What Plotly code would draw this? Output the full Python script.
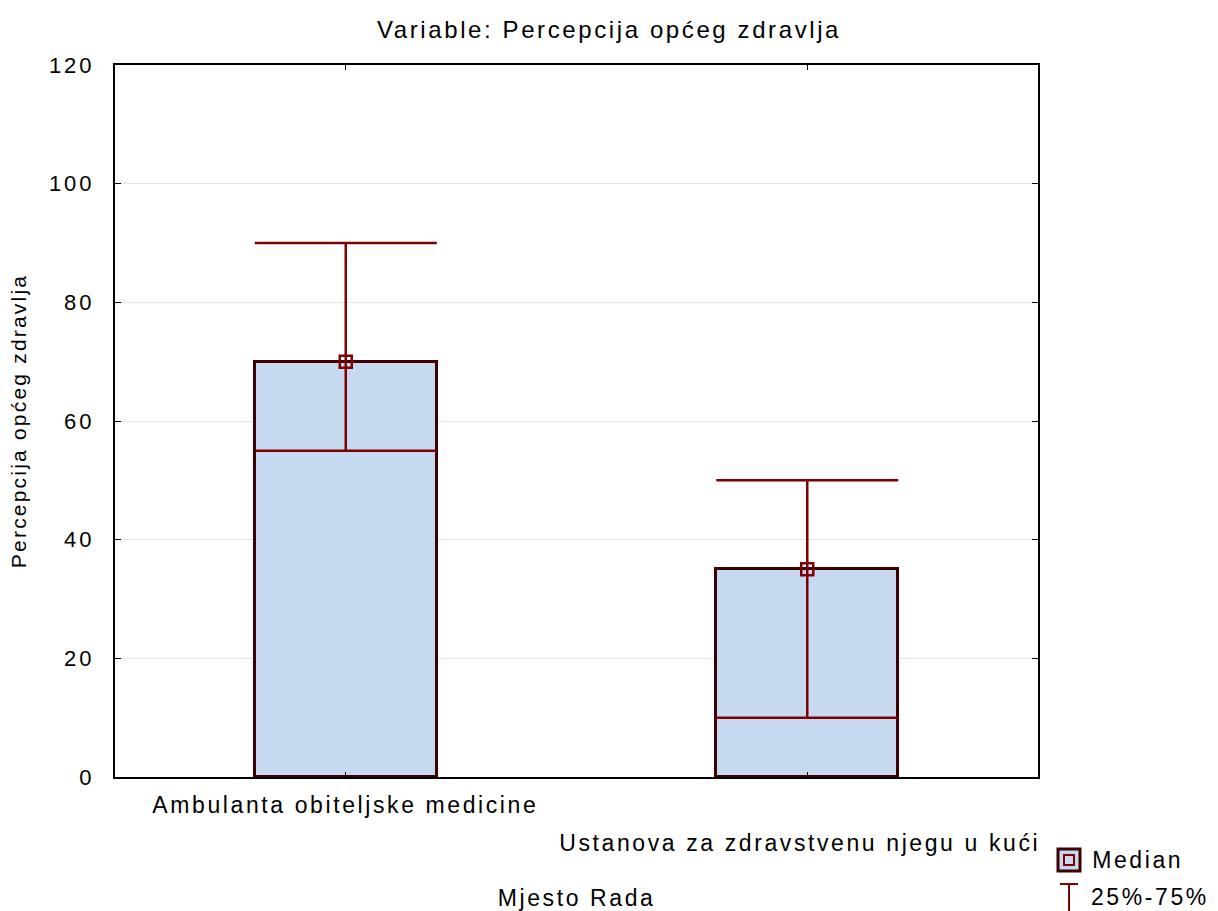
import plotly.graph_objects as go

categories = ["Ambulanta obiteljske medicine", "Ustanova za zdravstvenu njegu u kući"]
box_top = [70, 35]          # box drawn from 0 to this value
median = [70, 35]           # square marker
q25 = [55, 10]              # lower whisker cap
q75 = [90, 50]              # upper whisker cap
y_ticks = [0, 20, 40, 60, 80, 100, 120]

FILL = "#C6D9F0"
BORDER = "#3F0000"
RED = "#7F0000"
FONT = "Liberation Sans"

fig = go.Figure()

# boxes
fig.add_trace(go.Bar(
    x=categories, y=box_top, base=0, width=0.395,
    marker=dict(color=FILL, line=dict(color=BORDER, width=3)),
    showlegend=False, hoverinfo="skip"))

# whiskers (25%-75%) as error bars
mid = [(a + b) / 2 for a, b in zip(q25, q75)]
half = [(b - a) / 2 for a, b in zip(q25, q75)]
fig.add_trace(go.Scatter(
    x=categories, y=mid, mode="markers",
    marker=dict(size=1, color="rgba(0,0,0,0)"),
    error_y=dict(type="data", array=half, symmetric=True,
                 color=RED, thickness=2.5, width=91),
    showlegend=False, hoverinfo="skip"))

# median markers
fig.add_trace(go.Scatter(
    x=categories, y=median, mode="markers",
    marker=dict(symbol="square-open", size=12, color=RED, line=dict(width=2.5, color=RED)),
    showlegend=False, hoverinfo="skip"))

LBL = dict(family=FONT, size=23, color="black")

annotations = []
# staggered category labels
for i, c in enumerate(categories):
    annotations.append(dict(
        x=c, y=0, xref="x", yref="paper", yanchor="top", xanchor="center",
        yshift=-13 - 38 * i, xshift=-8 * i, showarrow=False, text=c, font=LBL))
# x axis title
annotations.append(dict(x=0.5, y=0, xref="paper", yref="paper", yanchor="top",
                        yshift=-106, showarrow=False, text="Mjesto Rada", font=LBL))

W, H = 1218, 911
pl, pr, pt, pb = 115, 180, 65, 134
pw, ph = W - pl - pr, H - pt - pb
def px(x):
    return (x - pl) / pw
def py(y):
    return (H - pb - y) / ph

# legend texts
annotations.append(dict(x=px(1098), y=py(860), xref="paper", yref="paper", showarrow=False,
                        text="Median", xanchor="left", yanchor="middle", font=LBL))
annotations.append(dict(x=px(1098), y=py(897), xref="paper", yref="paper", showarrow=False,
                        text="25%-75%", xanchor="left", yanchor="middle", font=LBL))

fig.update_layout(
    width=W, height=H,
    margin=dict(l=pl, r=pr, t=pt, b=pb),
    paper_bgcolor="white", plot_bgcolor="white",
    title=dict(text="Variable: Percepcija općeg zdravlja", x=0.5, xanchor="center",
               y=1 - 30 / H, yanchor="middle",
               font=dict(family=FONT, size=24, color="black")),
    bargap=0,
    xaxis=dict(type="category", categoryorder="array", categoryarray=categories,
               range=[-0.5, 1.5], showgrid=False, showline=True, linecolor="black",
               linewidth=2, mirror="ticks", ticks="inside", ticklen=5, tickcolor="black",
               showticklabels=False, zeroline=False),
    yaxis=dict(range=[0, 120], tickvals=y_ticks, showgrid=True, gridcolor="#E3E3E3",
               gridwidth=1, showline=True, linecolor="black", linewidth=2,
               mirror="ticks", ticks="inside", ticklen=6, tickcolor="black",
               zeroline=False, ticklabelstandoff=14,
               tickfont=dict(family=FONT, size=22, color="black"),
               title=dict(text="Percepcija općeg zdravlja", standoff=26,
                          font=dict(family=FONT, size=21, color="black"))),
    annotations=annotations,
    showlegend=False,
)

# legend icons
fig.add_shape(type="rect", xref="paper", yref="paper",
              x0=px(1058), x1=px(1080), y0=py(871), y1=py(849),
              fillcolor=FILL, line=dict(color=BORDER, width=3))
fig.add_shape(type="rect", xref="paper", yref="paper",
              x0=px(1064), x1=px(1074), y0=py(865), y1=py(855),
              fillcolor=FILL, line=dict(color=RED, width=2))
fig.add_shape(type="line", xref="paper", yref="paper",
              x0=px(1060), x1=px(1078), y0=py(884), y1=py(884),
              line=dict(color=RED, width=2))
fig.add_shape(type="line", xref="paper", yref="paper",
              x0=px(1069), x1=px(1069), y0=py(884), y1=py(911),
              line=dict(color=RED, width=2))

css = ("body{margin:0;padding:0;overflow:hidden}"
       ".main-svg .gtitle{letter-spacing:2.6px}"
       ".main-svg .annotation-text{letter-spacing:2.6px}"
       ".main-svg .ytick text{letter-spacing:3px}"
       ".main-svg .ytitle{letter-spacing:2.2px}")
post = ("var s=document.createElement('style');s.innerHTML='" + css +
        "';document.head.appendChild(s);")

fig.write_html("out.html", post_script=post, config={"displayModeBar": False})
